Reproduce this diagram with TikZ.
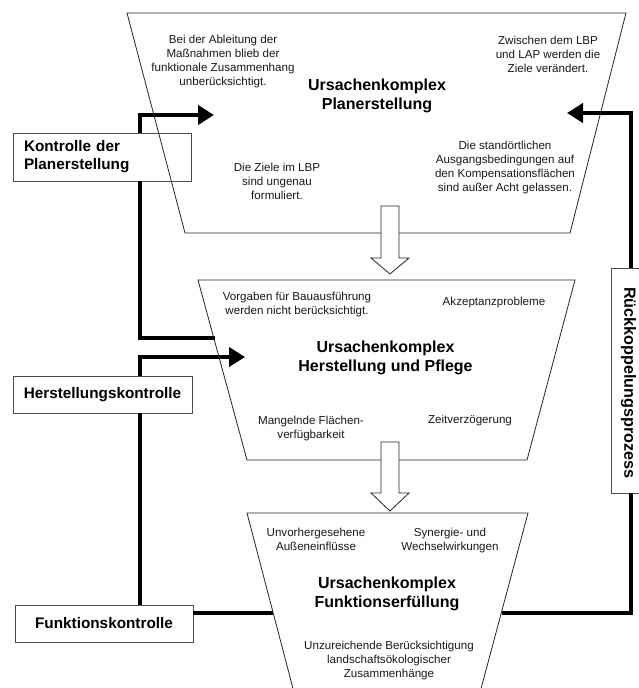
\documentclass[tikz,border=0pt]{standalone}
\usepackage{fontspec}
\setmainfont{Liberation Sans}
\usetikzlibrary{arrows.meta}
\begin{document}
\begin{tikzpicture}[x=1pt,y=-1pt,
  trap/.style={draw=black!85,line width=0.8pt},
  hollow/.style={draw=black!85,line width=0.8pt,fill=white},
  fb/.style={line width=4.5pt,line join=miter,line cap=butt},
  tip/.style={-{Triangle[length=16pt,width=19pt]}},
  small/.style={font=\fontsize{11.6}{14}\selectfont,align=center,inner sep=0pt,text=black!90},
  ttl/.style={font=\bfseries\fontsize{16}{19}\selectfont,align=center,inner sep=0pt},
  ctlbox/.style={draw=black!70,line width=0.8pt,fill=white,font=\bfseries\fontsize{15.3}{18}\selectfont,inner sep=0pt}
]
\useasboundingbox (0,0) rectangle (638,688);
\fill[white] (0,0) rectangle (638,688);

% connection coordinates
\coordinate (xl) at (140,0);
\coordinate (xr) at (631,0);
\coordinate (a1) at (214,115);
\coordinate (m1) at (215,338);
\coordinate (a2) at (245,357);
\coordinate (b1) at (273,613);
\coordinate (b2) at (502,613);
\coordinate (a3) at (567,113);

% control boxes
\node[ctlbox,minimum width=178pt,minimum height=48pt,text width=156pt,align=left,inner xsep=11pt] (kp) at (102,157) {Kontrolle der\\Planerstellung};
\node[ctlbox,minimum width=179pt,minimum height=37pt] (hk) at (102.5,394.5) {Herstellungskontrolle};
\node[ctlbox,minimum width=178pt,minimum height=37pt] (fk) at (104,623.5) {Funktionskontrolle};
\node[ctlbox,minimum width=38pt,minimum height=225pt] (rk) at (630,380.5) {};
\node[rotate=-90,inner sep=0pt,font=\bfseries\fontsize{16.2}{19}\selectfont] (rkt) at (628.5,383) {Rückkoppelungsprozess};

% thick feedback lines
\draw[fb,tip] (xl |- kp.north) |- (a1);
\draw[fb] (xl |- kp.south) |- (m1);
\draw[fb,tip] (xl |- hk.north) |- (a2);
\draw[fb] (xl |- hk.south) -- (xl |- fk.north);
\draw[fb] (b1 -| fk.east) -- (b1);
\draw[fb] (b2) -| (xr |- rk.south);
\draw[fb,tip] (xr |- rk.north) |- (a3);

% trapezoids
\draw[trap] (127,13) -- (626,13) -- (570,233) -- (185,233) -- cycle;
\draw[trap] (198,280) -- (575,280) -- (527,460) -- (247,460) -- cycle;
\draw[trap] (247,513) -- (528,513) -- (478,700) -- (296,700) -- cycle;

% hollow arrows
\draw[hollow] (381,206) -- (381,258) -- (371,258) -- (390,274) -- (409,258) -- (399,258) -- (399,206) -- cycle;
\draw[hollow] (381,442) -- (381,493) -- (371,493) -- (390,511) -- (409,493) -- (399,493) -- (399,442) -- cycle;

% top texts
\node[small] (t1) at (223,61) {Bei der Ableitung der\\Maßnahmen blieb der\\funktionale Zusammenhang\\unberücksichtigt.};
\node[ttl] (t2) at (377,96) {Ursachenkomplex\\Planerstellung};
\node[small] (t3) at (548,54) {Zwischen dem LBP\\und LAP werden die\\Ziele verändert.};
\node[small] (t4) at (505,167) {Die standörtlichen\\Ausgangsbedingungen auf\\den Kompensationsflächen\\sind außer Acht gelassen.};
\node[small] (t5) at (277,181) {Die Ziele im LBP\\sind ungenau\\formuliert.};

% middle texts
\node[small] (m1t) at (297,304) {Vorgaben für Bauausführung\\werden nicht berücksichtigt.};
\node[small] (m2t) at (494,302) {Akzeptanzprobleme};
\node[ttl] (m3t) at (385.5,358) {Ursachenkomplex\\Herstellung und Pflege};
\node[small] (m4t) at (311,428) {Mangelnde Flächen-\\verfügbarkeit};
\node[small] (m5t) at (470,420) {Zeitverzögerung};

% bottom texts
\node[small] (b1t) at (316,539) {Unvorhergesehene\\Außeneinflüsse};
\node[small] (b2t) at (450,540) {Synergie- und\\Wechselwirkungen};
\node[ttl] (b3t) at (387,594) {Ursachenkomplex\\Funktionserfüllung};
\node[small] (b4t) at (389,660) {Unzureichende Berücksichtigung\\landschaftsökologischer\\Zusammenhänge};
\end{tikzpicture}
\end{document}
